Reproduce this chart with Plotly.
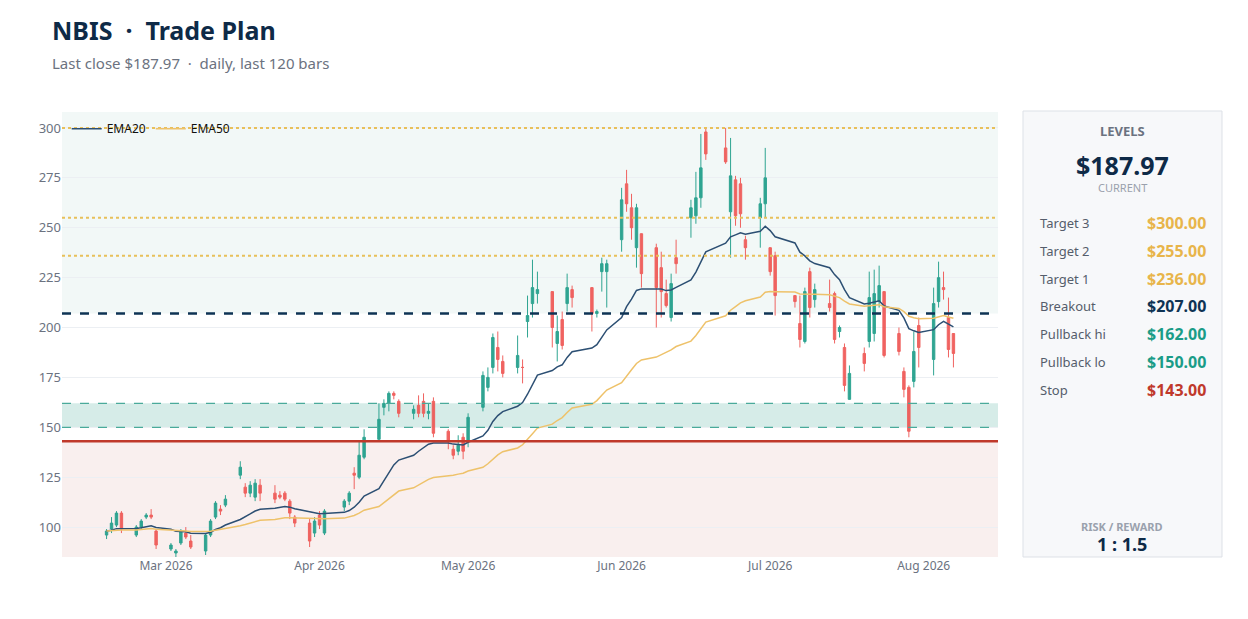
import pandas as pd
import plotly.graph_objects as go

opens = [96,99,101,107,96,100,105,106,98,89,87,92,97,93,88,96,105,109,111,126,120,117,115,121,117,116,117,113,105,102,97,106,97,110,113,127,125,135,144,160,162,167,163,157,161,163,157,163,148,139,138,145,143,160,170,180,190,183,180,180,203,212,217,218,192,204,212,219,220,207,228,228,244,272,260,240,247,240,230,217,205,235,255,256,265,298,290,258,274,272,244,255,262,240,236,216,202,193,228,214,212,217,198,190,164,187,193,197,213,218,197,178,170,173,201,184,213,220,205,197]
closes = [98,102,107,99,100,103,106,105,91,91,88,98,95,90,96,103,112,108,114,130,117,121,122,117,114,115,114,107,102,93,103,101,108,113,117,126,136,145,154,162,167,166,157,159,157,157,158,147,143,136,141,138,155,176,175,195,184,177,186,180,206,220,219,200,198,191,220,215,207,208,232,232,264,262,250,260,227,220,218,211,222,232,260,265,280,287,283,276,256,257,240,262,275,228,216,213,194,218,210,219,210,194,200,171,177,182,215,217,221,186,188,169,148,188,190,212,225,219,189,187]
highs = [99,105,108,108,101,104,107,109,99,92,89,99,100,96,97,104,113,111,116,133,122,123,124,124,121,118,118,114,106,104,105,108,109,114,118,130,143,149,162,164,168,168,164,161,166,167,162,165,149,141,146,147,157,178,180,197,198,186,196,184,216,234,228,218,206,208,227,221,220,209,235,234,270,279,267,262,236,242,238,224,227,244,264,278,297,300,300,295,276,275,246,265,290,238,238,216,216,220,230,222,224,218,201,192,181,190,228,229,231,218,200,180,171,198,205,220,233,228,215,197]
lows = [94,97,100,97,95,99,104,104,89,88,84,91,94,89,86,95,104,106,110,124,115,115,113,113,112,114,113,104,100,90,95,99,96,108,111,119,124,134,143,156,158,164,155,154,155,155,154,145,139,134,136,134,140,158,168,177,178,175,177,172,195,205,212,190,183,189,208,210,198,205,218,210,238,258,244,230,220,200,205,210,203,227,245,252,260,284,282,235,251,250,234,240,255,226,206,210,190,192,205,210,208,192,195,168,165,178,190,193,210,185,186,165,145,170,180,176,210,214,185,180]
holidays = ["2026-04-03", "2026-05-25", "2026-06-19", "2026-07-03"]
levels = [("Target 3", 300, "#e8b54a"), ("Target 2", 255, "#e8b54a"), ("Target 1", 236, "#e8b54a"),
          ("Breakout", 207, "#0e3354"), ("Pullback hi", 162, "#1a9c87"), ("Pullback lo", 150, "#1a9c87"),
          ("Stop", 143, "#c0392b")]

n = len(closes)
alld = pd.bdate_range(start="2026-02-17", end="2026-09-30")
alld = alld[~alld.isin(pd.to_datetime(holidays))]
dates = alld[:n]
cs = pd.Series(closes, dtype=float)
ema20 = cs.ewm(span=20, adjust=False).mean()
ema50 = cs.ewm(span=50, adjust=False).mean()

fig = go.Figure()
fig.add_hrect(y0=207, y1=308, fillcolor="#f2f8f7", line_width=0, layer="below")
fig.add_hrect(y0=150, y1=162, fillcolor="#d6ece8", line_width=0, layer="below")
fig.add_hrect(y0=85, y1=143, fillcolor="#f9efee", line_width=0, layer="below")

fig.add_trace(go.Candlestick(x=dates, open=opens, high=highs, low=lows, close=closes,
    increasing=dict(line=dict(color="#1a9c87", width=1), fillcolor="#1a9c87"),
    decreasing=dict(line=dict(color="#ef5350", width=1), fillcolor="#ef5350"),
    showlegend=False, opacity=0.9, whiskerwidth=0))
fig.add_trace(go.Scatter(x=dates, y=ema20, mode="lines", name="EMA20", line=dict(color="#2c4f73", width=1.5)))
fig.add_trace(go.Scatter(x=dates, y=ema50, mode="lines", name="EMA50", line=dict(color="#eec26a", width=1.5)))

for name, v, c in levels:
    if name.startswith("Target"):
        fig.add_hline(y=v, line=dict(color="#e8c05a", width=2, dash="dot"))
    elif name == "Breakout":
        fig.add_hline(y=v, line=dict(color="#0e3354", width=2.5, dash="dash"))
    elif name == "Stop":
        fig.add_hline(y=v, line=dict(color="#c0392b", width=2.5))
    else:
        fig.add_hline(y=v, line=dict(color="#4aaa9a", width=1.2, dash="dash"))

px = lambda p: (p - 62) / 936.0
py = lambda p: (557 - p) / 445.0
fig.add_shape(type="rect", xref="paper", yref="paper", x0=px(1023), x1=px(1222), y0=py(557), y1=py(111),
              fillcolor="#f7f8fa", line=dict(color="#dde1e7", width=1))
ann = [
    dict(x=px(1122), y=py(131), text="<b>LEVELS</b>", font=dict(size=13, color="#6b7280"), xanchor="center"),
    dict(x=px(1122), y=py(165), text="<b>$187.97</b>", font=dict(size=25, color="#0e2a47"), xanchor="center"),
    dict(x=px(1122), y=py(188), text="CURRENT", font=dict(size=11, color="#9aa1ad"), xanchor="center"),
    dict(x=px(1122), y=py(526), text="<b>RISK / REWARD</b>", font=dict(size=11, color="#9aa1ad"), xanchor="center"),
    dict(x=px(1122), y=py(544), text="<b>1 : 1.5</b>", font=dict(size=18, color="#0e2a47"), xanchor="center"),
]
for i, (name, v, c) in enumerate(levels):
    yy = py(223 + i * 27.8)
    ann.append(dict(x=px(1038), y=yy, text=name, font=dict(size=13, color="#555d6b"), xanchor="left"))
    ann.append(dict(x=px(1208), y=yy, text=f"<b>${v:.2f}</b>", font=dict(size=16, color=c), xanchor="right"))
for a in ann:
    fig.add_annotation(xref="paper", yref="paper", showarrow=False, yanchor="middle", **a)

fig.add_annotation(xref="paper", yref="paper", x=px(50), y=py(30), xanchor="left", yanchor="middle",
                   showarrow=False, text="<b>NBIS &nbsp;·&nbsp; Trade Plan</b>", font=dict(size=25, color="#0e2a47"))
fig.add_annotation(xref="paper", yref="paper", x=px(50), y=py(63), xanchor="left", yanchor="middle",
                   showarrow=False, text="Last close $187.97 &nbsp;·&nbsp; daily, last 120 bars", font=dict(size=15, color="#6b7280"))

fig.update_layout(
    width=1248, height=619, margin=dict(l=54, r=258, t=104, b=70),
    paper_bgcolor="white", plot_bgcolor="white",
    font=dict(family="Noto Sans, sans-serif", color="#6b7280"),
    legend=dict(orientation="h", x=0.005, y=0.995, xanchor="left", yanchor="top",
                bgcolor="rgba(0,0,0,0)", font=dict(size=12, color="#111")),
    xaxis=dict(range=["2026-02-08", "2026-08-16"], rangeslider=dict(visible=False), showgrid=False,
               tickformat="%b %Y", dtick="M1", ticks="", tickfont=dict(size=12)),
    yaxis=dict(range=[85, 308], tickvals=[100,125,150,175,200,225,250,275,300], gridcolor="#eceff3",
               zeroline=False, tickfont=dict(size=13)),
)
fig.write_html("out.html")
